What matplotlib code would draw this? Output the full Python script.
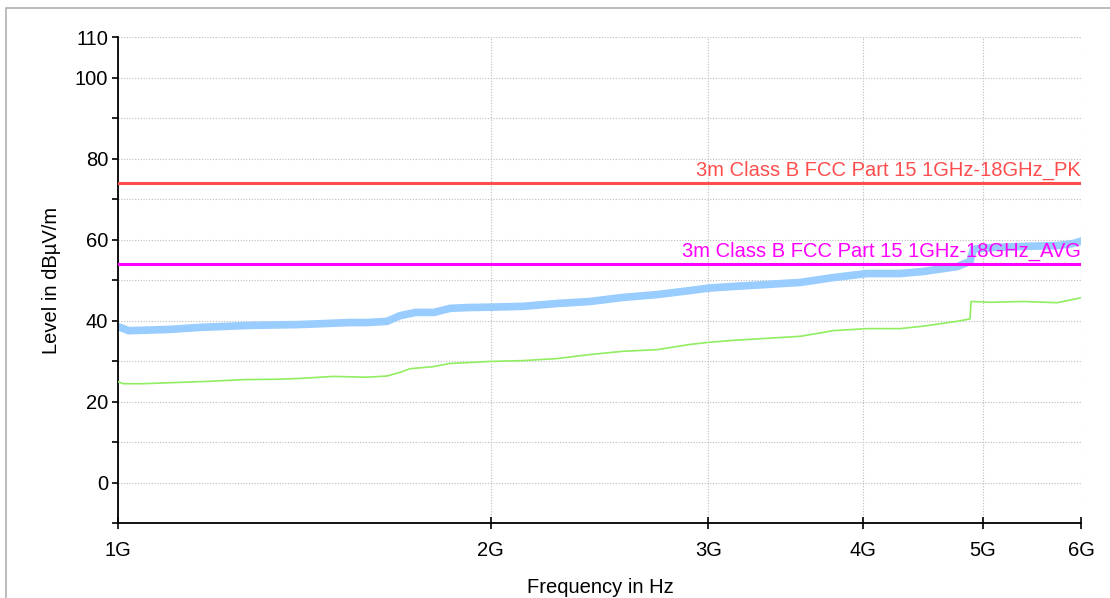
import matplotlib.pyplot as plt
from matplotlib.patches import Rectangle

# =========================
# DATOS
# =========================
# traza de pico (azul)
freq_pk = [1.00, 1.02, 1.05, 1.10, 1.165, 1.28, 1.40, 1.54, 1.59, 1.65, 1.69,
           1.74, 1.80, 1.855, 1.914, 2.00, 2.125, 2.263, 2.407, 2.559, 2.726,
           2.899, 3.00, 3.14, 3.345, 3.558, 3.783, 4.029, 4.285, 4.472, 4.764,
           4.88, 4.91, 5.066, 5.387, 5.738, 5.911, 6.00]
level_pk = [38.5, 37.5, 37.6, 37.8, 38.3, 38.8, 39.0, 39.5, 39.5, 39.8, 41.2,
            42.0, 42.0, 43.0, 43.2, 43.3, 43.5, 44.2, 44.7, 45.7, 46.4,
            47.4, 48.0, 48.4, 48.9, 49.4, 50.6, 51.6, 51.6, 52.1, 53.3,
            54.6, 57.6, 58.0, 58.3, 58.5, 59.0, 59.6]

# traza de media (verde)
freq_av = [1.00, 1.01, 1.048, 1.116, 1.187, 1.262, 1.344, 1.403, 1.492, 1.589,
           1.650, 1.690, 1.722, 1.797, 1.855, 1.914, 2.00, 2.125, 2.263, 2.407,
           2.559, 2.726, 2.899, 3.00, 3.14, 3.345, 3.558, 3.672, 3.783, 4.029,
           4.285, 4.472, 4.764, 4.88, 4.89, 5.066, 5.387, 5.738, 6.00]
level_av = [24.9, 24.4, 24.4, 24.7, 25.0, 25.4, 25.5, 25.7, 26.2, 26.0,
            26.3, 27.2, 28.1, 28.6, 29.4, 29.6, 29.9, 30.1, 30.6, 31.6,
            32.4, 32.8, 34.1, 34.6, 35.1, 35.6, 36.1, 36.8, 37.5, 38.0,
            38.0, 38.6, 39.8, 40.4, 44.7, 44.5, 44.7, 44.4, 45.6]

# límites
lim_freq = [1.0, 6.0]
lim_pk = 74
lim_av = 54
txt_pk = "3m Class B FCC Part 15 1GHz-18GHz_PK"
txt_av = "3m Class B FCC Part 15 1GHz-18GHz_AVG"

xticks = [1, 2, 3, 4, 5, 6]
xtick_labels = ["1G", "2G", "3G", "4G", "5G", "6G"]
yticks_lab = [0, 20, 40, 60, 80, 100, 110]

# =========================
# GRÁFICA
# =========================
plt.rcParams["font.family"] = ["Liberation Sans", "DejaVu Sans"]
fs = 14.5

fig = plt.figure(figsize=(11.1, 5.98), dpi=100)
ax = fig.add_axes([0.1063, 0.1254, 0.8676, 0.8127])

# marco exterior gris
fig.patches.append(Rectangle((6 / 1110, -0.5), 2.0, 1.5 - 8 / 598,
                             transform=fig.transFigure, fill=False,
                             edgecolor="#b0b0b0", linewidth=1.2))

ax.plot(freq_pk, level_pk, color="#99ccff", linewidth=5.5, zorder=2,
        solid_joinstyle="miter")
ax.plot(freq_av, level_av, color="#90ee60", linewidth=1.2, zorder=3)

ax.plot(lim_freq, [lim_pk, lim_pk], color="#ff4d4d", linewidth=2.2, zorder=4)
ax.plot(lim_freq, [lim_av, lim_av], color="#ff00ff", linewidth=2.2, zorder=4)
ax.text(6.0, lim_pk + 0.6, txt_pk, color="#ff4d4d", ha="right", va="bottom",
        fontsize=fs, zorder=5)
ax.text(6.0, lim_av + 0.6, txt_av, color="#ff00ff", ha="right", va="bottom",
        fontsize=fs, zorder=5)

ax.set_xscale("log")
ax.set_xlim(1.0, 6.0)
ax.set_ylim(-10, 110)
ax.set_xticks(xticks)
ax.set_xticklabels(xtick_labels)
ax.minorticks_off()
ax.set_yticks(range(-10, 111, 10))
ax.set_yticklabels([str(v) if v in yticks_lab else "" for v in range(-10, 111, 10)])

ax.grid(True, which="major", linestyle=(0, (1, 1.5)), color="#bbbbbb", linewidth=0.8)
ax.set_axisbelow(True)

for s in ["top", "right"]:
    ax.spines[s].set_visible(False)
for s in ["left", "bottom"]:
    ax.spines[s].set_linewidth(1.3)

ax.tick_params(axis="y", direction="out", length=4, width=1.2, labelsize=fs, pad=3)
ax.tick_params(axis="x", direction="inout", length=8, width=1.2, labelsize=fs, pad=9)

ax.set_ylabel("Level in dBµV/m", fontsize=fs, labelpad=10)
fig.text(600 / 1110, 1 / 598, "Frequency in Hz", ha="center", va="bottom",
         fontsize=fs)

fig.savefig("out.png", dpi=100)
